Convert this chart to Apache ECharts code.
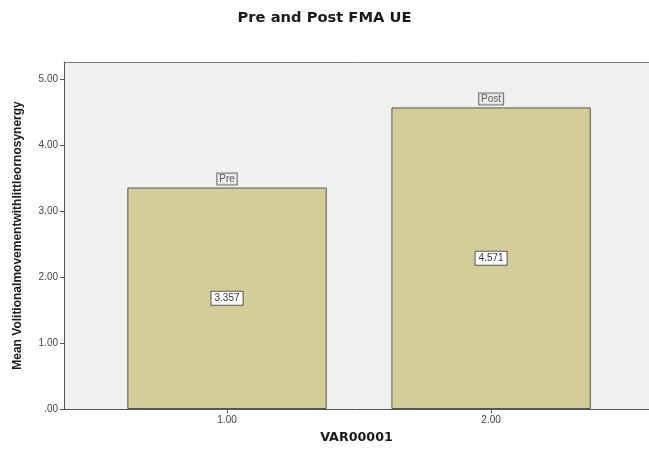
<!DOCTYPE html>
<html>
<head>
<meta charset="utf-8">
<script src="https://cdn.jsdelivr.net/npm/echarts@6/dist/echarts.min.js"></script>
<style>html,body{margin:0;padding:0;background:#fff;}#c{width:649px;height:450px;}</style>
</head>
<body>
<div id="c"></div>
<script>
const groupNames = ["Pre", "Post"];
const groupCodes = [1, 2];
const meanValues = [3.357, 4.571];
const yTickValues = [0, 1, 2, 3, 4, 5];
const xTickValues = [1, 2];

const chart = echarts.init(document.getElementById('c'), null, {renderer: 'canvas'});
const barData = groupCodes.map((x, i) => ({value: [x, meanValues[i]], name: groupNames[i]}));
const fmt = v => (v === 0 ? '.00' : v.toFixed(2));

chart.setOption({
  animation: false,
  backgroundColor: '#ffffff',
  title: {
    text: 'Pre and Post FMA UE',
    left: 'center',
    top: 6,
    textStyle: {fontFamily: 'DejaVu Sans, Liberation Sans', fontWeight: 'bold', fontSize: 14.7, color: '#1a1a1a'}
  },
  grid: {
    left: 64, top: 62, bottom: 41, right: 0,
    containLabel: false,
    show: true,
    backgroundColor: '#f0f0f0',
    borderWidth: 0
  },
  xAxis: [{
    type: 'value',
    min: 0.3826,
    max: 2.598,
    name: 'VAR00001',
    nameLocation: 'middle',
    nameGap: 22,
    nameTextStyle: {fontFamily: 'DejaVu Sans, Liberation Sans', fontWeight: 'bold', fontSize: 12.7, color: '#1a1a1a'},
    splitLine: {show: false},
    axisLine: {show: true, lineStyle: {color: '#555', width: 1}},
    axisTick: {show: true, length: 4, customValues: xTickValues, lineStyle: {color: '#555'}},
    axisLabel: {customValues: xTickValues, formatter: fmt, fontFamily: 'Liberation Sans, Arial', fontSize: 10, color: '#444', margin: 6}
  }, {
    type: 'value',
    position: 'top',
    min: 0.3826,
    max: 2.598,
    splitLine: {show: false},
    axisLine: {show: true, lineStyle: {color: '#7a7a7a', width: 1}},
    axisTick: {show: false},
    axisLabel: {show: false}
  }],
  yAxis: {
    type: 'value',
    min: 0,
    max: 5.26,
    name: 'Mean Volitionalmovementwithlittleornosynergy',
    nameLocation: 'middle',
    nameGap: 40,
    nameTextStyle: {fontFamily: 'Liberation Sans Narrow, Arial Narrow, Liberation Sans', fontWeight: 'bold', fontSize: 12, color: '#1a1a1a'},
    splitLine: {show: false},
    axisLine: {show: true, lineStyle: {color: '#555', width: 1}},
    axisTick: {show: true, length: 4, customValues: yTickValues, lineStyle: {color: '#555'}},
    axisLabel: {customValues: yTickValues, formatter: fmt, fontFamily: 'Liberation Sans, Arial', fontSize: 10, color: '#444', margin: 6}
  },
  series: [
    {
      type: 'bar',
      data: barData,
      barWidth: '75.5%',
      itemStyle: {color: '#d3ce98', borderColor: '#555', borderWidth: 1},
      label: {
        show: true,
        position: 'inside',
        formatter: p => p.value[1].toFixed(3),
        fontFamily: 'Liberation Sans, Arial', fontSize: 10, color: '#333',
        backgroundColor: '#ffffff', borderColor: '#555', borderWidth: 1, padding: [2, 3, 1, 3]
      }
    },
    {
      type: 'scatter',
      data: barData,
      symbolSize: 0,
      silent: true,
      label: {
        show: true,
        position: 'top',
        distance: 3,
        formatter: p => p.name,
        fontFamily: 'Liberation Sans, Arial', fontSize: 10, color: '#333',
        backgroundColor: '#ececec', borderColor: '#555', borderWidth: 1, padding: [1, 2, 0, 2]
      }
    }
  ]
});
</script>
</body>
</html>
